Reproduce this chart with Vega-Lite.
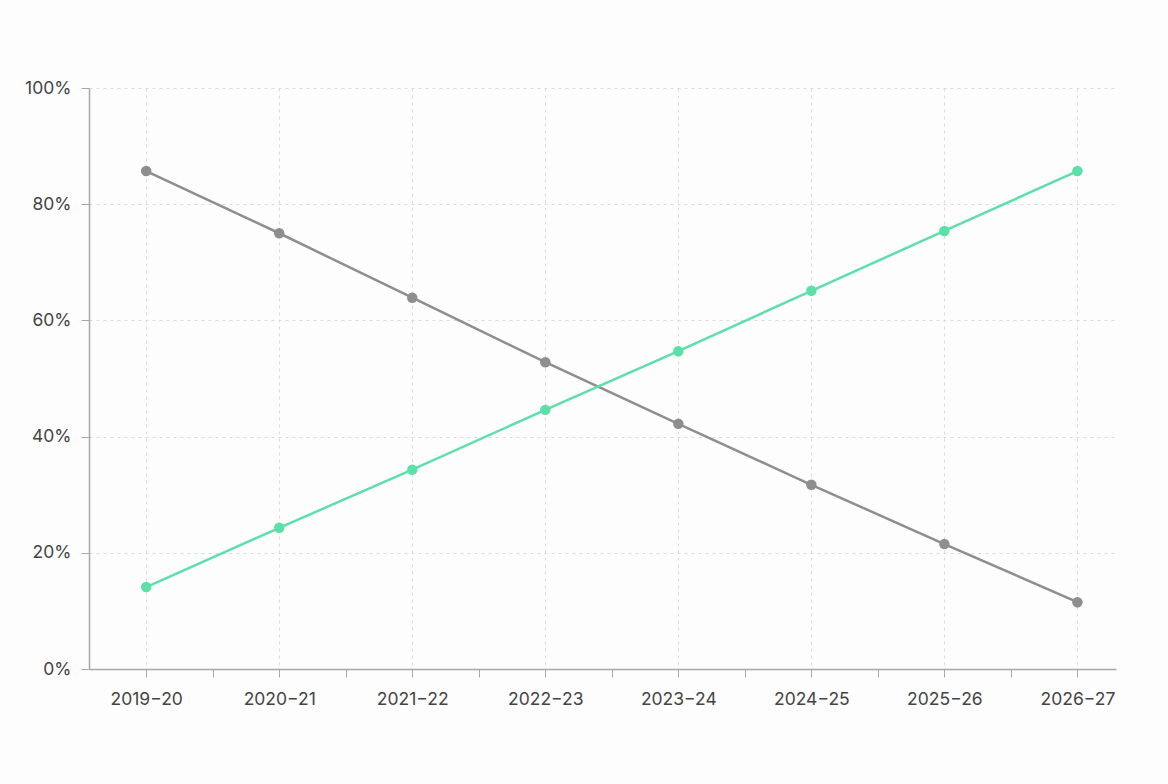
{
  "$schema": "https://vega.github.io/schema/vega-lite/v6.json",
  "autosize": "none",
  "width": 1027,
  "height": 581,
  "padding": {"left": 89, "top": 88, "right": 52, "bottom": 115},
  "background": "#fdfdfe",
  "data": {
    "values": [
      {"year": 2019, "series": "Declining", "share": 0.857},
      {"year": 2020, "series": "Declining", "share": 0.750},
      {"year": 2021, "series": "Declining", "share": 0.639},
      {"year": 2022, "series": "Declining", "share": 0.528},
      {"year": 2023, "series": "Declining", "share": 0.422},
      {"year": 2024, "series": "Declining", "share": 0.317},
      {"year": 2025, "series": "Declining", "share": 0.215},
      {"year": 2026, "series": "Declining", "share": 0.115},
      {"year": 2019, "series": "Rising", "share": 0.141},
      {"year": 2020, "series": "Rising", "share": 0.243},
      {"year": 2021, "series": "Rising", "share": 0.343},
      {"year": 2022, "series": "Rising", "share": 0.446},
      {"year": 2023, "series": "Rising", "share": 0.547},
      {"year": 2024, "series": "Rising", "share": 0.651},
      {"year": 2025, "series": "Rising", "share": 0.754},
      {"year": 2026, "series": "Rising", "share": 0.857}
    ]
  },
  "encoding": {
    "x": {
      "field": "year",
      "type": "quantitative",
      "title": null,
      "scale": {"domain": [2018.57, 2026.29], "nice": false, "zero": false},
      "axis": {
        "values": [2019, 2019.5, 2020, 2020.5, 2021, 2021.5, 2022, 2022.5, 2023, 2023.5, 2024, 2024.5, 2025, 2025.5, 2026, 2026.5],
        "labelExpr": "datum.value % 1 === 0 ? datum.value + '−' + ((datum.value + 1) % 100) : ''",
        "grid": true,
        "gridOpacity": {"condition": {"test": "datum.value % 1 !== 0", "value": 0}, "value": 1},
        "gridDash": [3, 4],
        "gridColor": "#d8dbe6",
        "domainColor": "#a8a8a8",
        "domainWidth": 1.5,
        "tickColor": "#a8a8a8",
        "tickSize": 8,
        "labelFontSize": 17.5,
        "labelColor": "#444444",
        "labelPadding": 13,
        "labelFont": "Inter"
      }
    },
    "y": {
      "field": "share",
      "type": "quantitative",
      "title": null,
      "scale": {"domain": [0, 1], "nice": false},
      "axis": {
        "values": [0, 0.2, 0.4, 0.6, 0.8, 1],
        "format": ".0%",
        "grid": true,
        "gridDash": [3, 4],
        "gridColor": "#d8dbe6",
        "domainColor": "#a8a8a8",
        "domainWidth": 1.5,
        "tickColor": "#a8a8a8",
        "tickSize": 8,
        "labelFontSize": 17.5,
        "labelColor": "#444444",
        "labelPadding": 10,
        "labelFont": "Inter"
      }
    },
    "color": {
      "field": "series",
      "type": "nominal",
      "scale": {"domain": ["Declining", "Rising"], "range": ["#8e8e8e", "#5ddfaa"]},
      "legend": null
    }
  },
  "layer": [
    {"mark": {"type": "line", "strokeWidth": 2.5}},
    {"mark": {"type": "circle", "size": 110, "opacity": 1}}
  ],
  "config": {"view": {"stroke": null}}
}
